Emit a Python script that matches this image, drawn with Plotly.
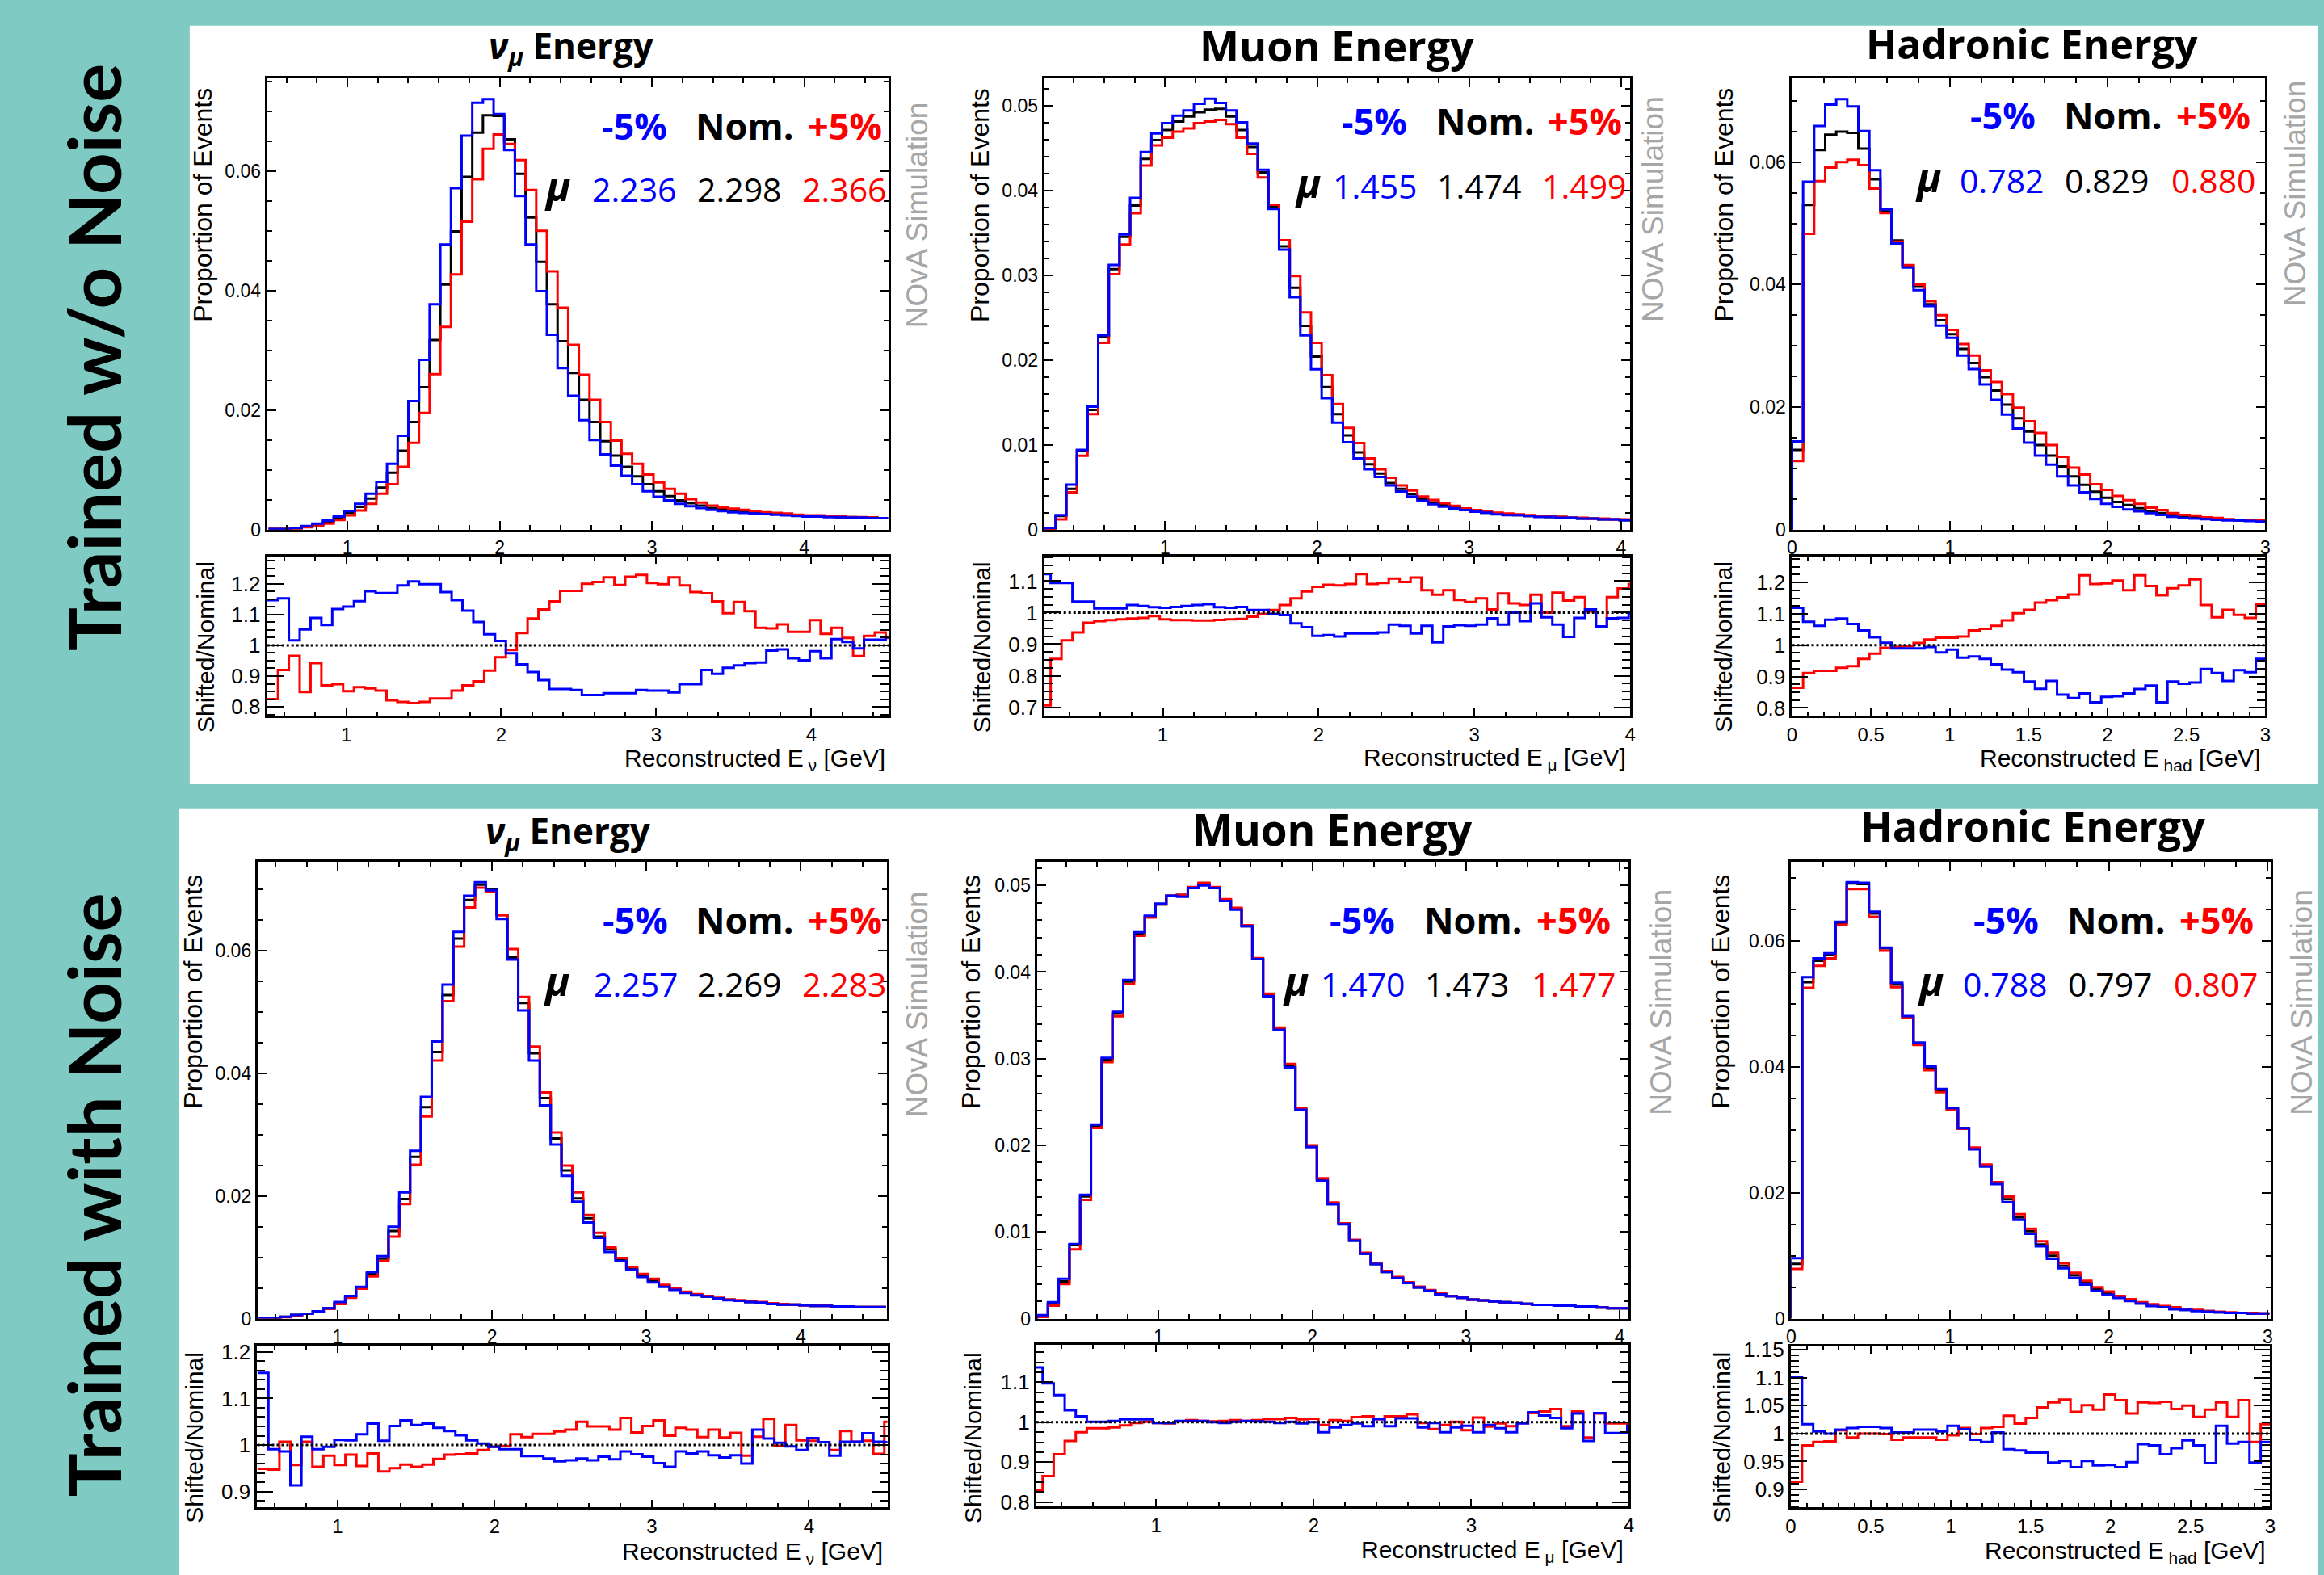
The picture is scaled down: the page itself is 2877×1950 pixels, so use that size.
import plotly.graph_objects as go

W, H = 2877, 1950
TEAL = '#7FCBC3'
BLUE = '#0000FF'
RED = '#FF0000'
BLACK = '#000000'
GRAY = '#A6A6A6'
ROOT_FONT = 'Liberation Sans'
SLIDE_FONT = 'Open Sans'

# ---------------- data (bin width 0.07 GeV) ----------------
BIN_WIDTH = 0.07
NU_START = 0.49
MU_START = 0.21
HAD_START = 0.0

# Top row: trained w/o noise
nu_top_nom = [0.0001, 0.0001, 0.0002, 0.0005, 0.0008, 0.0013, 0.0019, 0.0028, 0.0038, 0.0052,
              0.0070, 0.0095, 0.0132, 0.0180, 0.0238, 0.0317, 0.0410, 0.0499, 0.0590, 0.0664,
              0.0693, 0.0692, 0.0653, 0.0595, 0.0522, 0.0448, 0.0377, 0.0315, 0.0262, 0.0217,
              0.0180, 0.0148, 0.0124, 0.0105, 0.0089, 0.0076, 0.0064, 0.0056, 0.0049, 0.0044,
              0.0040, 0.0036, 0.0034, 0.0032, 0.0030, 0.0029, 0.0028, 0.0027, 0.0026, 0.0024,
              0.0023, 0.0023, 0.0022, 0.0021, 0.0021, 0.0020, 0.0020, 0.0019]
nu_top_minus = [0.0001, 0.0001, 0.0003, 0.0006, 0.0010, 0.0015, 0.0022, 0.0031, 0.0043, 0.0060,
                0.0080, 0.0110, 0.0157, 0.0215, 0.0284, 0.0377, 0.0477, 0.0571, 0.0659, 0.0714,
                0.0720, 0.0695, 0.0635, 0.0558, 0.0477, 0.0399, 0.0326, 0.0270, 0.0224, 0.0183,
                0.0150, 0.0126, 0.0107, 0.0090, 0.0076, 0.0064, 0.0055, 0.0049, 0.0043, 0.0039,
                0.0036, 0.0033, 0.0031, 0.0029, 0.0028, 0.0027, 0.0026, 0.0025, 0.0024, 0.0023,
                0.0022, 0.0022, 0.0021, 0.0021, 0.0020, 0.0020, 0.0019, 0.0019]
nu_top_plus = [0.0001, 0.0001, 0.0002, 0.0004, 0.0007, 0.0010, 0.0016, 0.0024, 0.0032, 0.0043,
               0.0060, 0.0076, 0.0105, 0.0145, 0.0195, 0.0260, 0.0339, 0.0427, 0.0515, 0.0586,
               0.0637, 0.0661, 0.0645, 0.0618, 0.0568, 0.0500, 0.0432, 0.0371, 0.0309, 0.0259,
               0.0217, 0.0180, 0.0149, 0.0127, 0.0110, 0.0092, 0.0079, 0.0068, 0.0060, 0.0051,
               0.0045, 0.0040, 0.0037, 0.0035, 0.0033, 0.0031, 0.0029, 0.0028, 0.0027, 0.0025,
               0.0024, 0.0024, 0.0023, 0.0022, 0.0021, 0.0021, 0.0020, 0.0019]
nu_top_ratio_minus = [1.147, 1.153, 1.016, 1.052, 1.089, 1.066, 1.118, 1.126, 1.144, 1.176,
                      1.170, 1.170, 1.195, 1.208, 1.199, 1.199, 1.173, 1.147, 1.113, 1.076,
                      1.036, 1.014, 0.974, 0.938, 0.913, 0.887, 0.858, 0.858, 0.855, 0.838,
                      0.838, 0.844, 0.844, 0.844, 0.855, 0.853, 0.853, 0.847, 0.874, 0.874,
                      0.920, 0.907, 0.927, 0.935, 0.942, 0.944, 0.983, 0.987, 0.958, 0.951,
                      0.981, 0.958, 1.020, 1.011, 0.990, 1.018, 1.018, 1.026]
nu_top_ratio_plus = [0.825, 0.920, 0.966, 0.848, 0.942, 0.870, 0.874, 0.851, 0.864, 0.860,
                     0.853, 0.821, 0.816, 0.812, 0.816, 0.827, 0.827, 0.853, 0.870, 0.883,
                     0.918, 0.961, 0.985, 1.040, 1.087, 1.117, 1.143, 1.177, 1.177, 1.200,
                     1.206, 1.221, 1.196, 1.223, 1.229, 1.203, 1.199, 1.221, 1.195, 1.173,
                     1.169, 1.143, 1.104, 1.141, 1.111, 1.057, 1.055, 1.068, 1.044, 1.044,
                     1.082, 1.037, 1.057, 1.024, 0.965, 1.031, 1.042, 1.024]

mu_top_nom = [0.0000, 0.0016, 0.0048, 0.0093, 0.0141, 0.0227, 0.0307, 0.0345, 0.0382, 0.0437,
              0.0459, 0.0471, 0.0481, 0.0487, 0.0492, 0.0495, 0.0496, 0.0487, 0.0471, 0.0451,
              0.0421, 0.0381, 0.0334, 0.0285, 0.0240, 0.0204, 0.0168, 0.0136, 0.0111, 0.0091,
              0.0077, 0.0066, 0.0055, 0.0048, 0.0042, 0.0036, 0.0032, 0.0029, 0.0026, 0.0024,
              0.0022, 0.0020, 0.0019, 0.0018, 0.0017, 0.0016, 0.0016, 0.0015, 0.0015, 0.0014,
              0.0013, 0.0013, 0.0012, 0.0012, 0.0011]
mu_top_minus = [0.0002, 0.0017, 0.0053, 0.0094, 0.0145, 0.0229, 0.0312, 0.0348, 0.0391, 0.0445,
                0.0467, 0.0479, 0.0488, 0.0494, 0.0502, 0.0508, 0.0503, 0.0494, 0.0480, 0.0455,
                0.0424, 0.0378, 0.0330, 0.0274, 0.0229, 0.0189, 0.0155, 0.0126, 0.0103, 0.0084,
                0.0071, 0.0062, 0.0052, 0.0045, 0.0039, 0.0034, 0.0030, 0.0027, 0.0025, 0.0023,
                0.0021, 0.0020, 0.0018, 0.0017, 0.0017, 0.0016, 0.0015, 0.0015, 0.0014, 0.0014,
                0.0013, 0.0013, 0.0012, 0.0012, 0.0011]
mu_top_plus = [0.0000, 0.0012, 0.0044, 0.0087, 0.0136, 0.0220, 0.0301, 0.0336, 0.0373, 0.0429,
               0.0453, 0.0462, 0.0469, 0.0473, 0.0479, 0.0481, 0.0483, 0.0478, 0.0462, 0.0443,
               0.0415, 0.0383, 0.0341, 0.0299, 0.0256, 0.0220, 0.0182, 0.0148, 0.0120, 0.0102,
               0.0084, 0.0071, 0.0061, 0.0052, 0.0046, 0.0039, 0.0035, 0.0031, 0.0028, 0.0025,
               0.0023, 0.0021, 0.0020, 0.0019, 0.0018, 0.0017, 0.0016, 0.0016, 0.0015, 0.0014,
               0.0014, 0.0013, 0.0013, 0.0012, 0.0012]
mu_top_ratio_minus = [1.122, 1.094, 1.094, 1.035, 1.035, 1.013, 1.013, 1.013, 1.024, 1.021,
                      1.017, 1.015, 1.018, 1.021, 1.024, 1.027, 1.017, 1.015, 1.018, 1.008,
                      1.008, 0.996, 0.992, 0.966, 0.954, 0.926, 0.929, 0.924, 0.934, 0.934,
                      0.934, 0.937, 0.962, 0.958, 0.934, 0.958, 0.906, 0.956, 0.960, 0.958,
                      0.962, 0.982, 0.962, 1.000, 0.973, 1.029, 0.985, 0.962, 0.923, 0.983,
                      1.010, 0.956, 0.982, 0.983, 0.998]
mu_top_ratio_plus = [0.706, 0.853, 0.912, 0.937, 0.968, 0.973, 0.976, 0.979, 0.981, 0.983,
                     0.989, 0.979, 0.976, 0.976, 0.975, 0.975, 0.977, 0.979, 0.980, 0.987,
                     0.996, 1.008, 1.024, 1.045, 1.067, 1.082, 1.088, 1.086, 1.091, 1.122,
                     1.091, 1.094, 1.108, 1.097, 1.111, 1.071, 1.057, 1.071, 1.040, 1.034,
                     1.045, 1.010, 1.061, 1.029, 1.024, 1.057, 1.000, 1.063, 1.038, 1.049,
                     1.004, 0.956, 1.049, 1.077, 1.091]

had_top_nom = [0.0130, 0.0530, 0.0620, 0.0645, 0.0650, 0.0648, 0.0622, 0.0572, 0.0521, 0.0472,
               0.0431, 0.0398, 0.0368, 0.0342, 0.0319, 0.0295, 0.0272, 0.0249, 0.0227, 0.0204,
               0.0182, 0.0160, 0.0138, 0.0121, 0.0103, 0.0087, 0.0073, 0.0062, 0.0052, 0.0045,
               0.0040, 0.0035, 0.0030, 0.0027, 0.0024, 0.0022, 0.0020, 0.0019, 0.0017, 0.0016,
               0.0015, 0.0015, 0.0014]
had_top_minus = [0.0144, 0.0568, 0.0659, 0.0694, 0.0703, 0.0691, 0.0651, 0.0587, 0.0523, 0.0467,
                 0.0428, 0.0391, 0.0365, 0.0333, 0.0313, 0.0284, 0.0262, 0.0237, 0.0212, 0.0188,
                 0.0165, 0.0142, 0.0121, 0.0106, 0.0087, 0.0072, 0.0061, 0.0050, 0.0042, 0.0037,
                 0.0033, 0.0030, 0.0027, 0.0024, 0.0021, 0.0019, 0.0018, 0.0017, 0.0016, 0.0015,
                 0.0015, 0.0014, 0.0013]
had_top_plus = [0.0112, 0.0483, 0.0569, 0.0591, 0.0600, 0.0604, 0.0595, 0.0557, 0.0517, 0.0470,
                0.0432, 0.0400, 0.0373, 0.0350, 0.0326, 0.0303, 0.0284, 0.0260, 0.0241, 0.0221,
                0.0199, 0.0177, 0.0158, 0.0138, 0.0119, 0.0101, 0.0090, 0.0074, 0.0065, 0.0055,
                0.0048, 0.0042, 0.0036, 0.0032, 0.0027, 0.0024, 0.0023, 0.0020, 0.0019, 0.0017,
                0.0016, 0.0016, 0.0015]
had_top_ratio_minus = [1.119, 1.075, 1.062, 1.081, 1.085, 1.068, 1.047, 1.025, 1.008, 0.990,
                       0.990, 0.990, 0.994, 0.977, 0.986, 0.960, 0.964, 0.956, 0.939, 0.922,
                       0.914, 0.884, 0.861, 0.886, 0.842, 0.831, 0.846, 0.818, 0.835, 0.837,
                       0.846, 0.860, 0.871, 0.818, 0.884, 0.877, 0.881, 0.924, 0.911, 0.886,
                       0.920, 0.914, 0.956]
had_top_ratio_plus = [0.864, 0.911, 0.918, 0.918, 0.928, 0.933, 0.956, 0.973, 0.992, 0.994,
                      0.997, 1.007, 1.018, 1.024, 1.024, 1.028, 1.047, 1.052, 1.062, 1.079,
                      1.102, 1.113, 1.136, 1.144, 1.153, 1.162, 1.223, 1.195, 1.197, 1.206,
                      1.175, 1.223, 1.189, 1.159, 1.182, 1.191, 1.210, 1.128, 1.089, 1.113,
                      1.097, 1.087, 1.131]

# Bottom row: trained with noise
nu_bot_nom = [0.0000, 0.0001, 0.0003, 0.0006, 0.0008, 0.0012, 0.0017, 0.0025, 0.0036, 0.0051,
              0.0074, 0.0098, 0.0143, 0.0195, 0.0264, 0.0345, 0.0435, 0.0528, 0.0620, 0.0683,
              0.0708, 0.0700, 0.0659, 0.0589, 0.0515, 0.0433, 0.0360, 0.0294, 0.0242, 0.0196,
              0.0164, 0.0134, 0.0113, 0.0096, 0.0082, 0.0071, 0.0062, 0.0054, 0.0048, 0.0043,
              0.0039, 0.0036, 0.0033, 0.0031, 0.0029, 0.0027, 0.0026, 0.0025, 0.0023, 0.0023,
              0.0022, 0.0021, 0.0021, 0.0020, 0.0020, 0.0019, 0.0019, 0.0019]
nu_bot_minus = [0.0000, 0.0001, 0.0003, 0.0006, 0.0008, 0.0012, 0.0017, 0.0027, 0.0037, 0.0052,
                0.0076, 0.0102, 0.0150, 0.0206, 0.0274, 0.0362, 0.0452, 0.0545, 0.0631, 0.0690,
                0.0712, 0.0699, 0.0652, 0.0586, 0.0503, 0.0421, 0.0348, 0.0284, 0.0233, 0.0191,
                0.0157, 0.0132, 0.0109, 0.0094, 0.0080, 0.0068, 0.0059, 0.0052, 0.0047, 0.0042,
                0.0038, 0.0036, 0.0033, 0.0030, 0.0029, 0.0027, 0.0026, 0.0024, 0.0023, 0.0023,
                0.0022, 0.0021, 0.0021, 0.0020, 0.0020, 0.0019, 0.0019, 0.0019]
nu_bot_plus = [0.0000, 0.0001, 0.0002, 0.0005, 0.0008, 0.0011, 0.0016, 0.0024, 0.0034, 0.0049,
               0.0069, 0.0094, 0.0134, 0.0187, 0.0251, 0.0330, 0.0421, 0.0518, 0.0607, 0.0671,
               0.0703, 0.0697, 0.0658, 0.0603, 0.0525, 0.0444, 0.0369, 0.0304, 0.0250, 0.0206,
               0.0169, 0.0140, 0.0116, 0.0099, 0.0084, 0.0073, 0.0065, 0.0055, 0.0049, 0.0044,
               0.0040, 0.0037, 0.0034, 0.0031, 0.0030, 0.0028, 0.0027, 0.0025, 0.0024, 0.0023,
               0.0022, 0.0021, 0.0021, 0.0020, 0.0020, 0.0019, 0.0019, 0.0019]
nu_bot_ratio_minus = [1.155, 0.991, 0.986, 0.913, 1.018, 0.991, 0.996, 1.011, 1.010, 1.023,
                      1.046, 1.009, 1.041, 1.053, 1.043, 1.046, 1.037, 1.030, 1.021, 1.010,
                      1.003, 0.996, 0.991, 0.991, 0.976, 0.976, 0.971, 0.965, 0.967, 0.971,
                      0.967, 0.975, 0.969, 0.986, 0.980, 0.975, 0.961, 0.953, 0.986, 0.982,
                      0.986, 0.978, 0.973, 0.978, 0.960, 1.033, 1.014, 1.005, 0.997, 0.989,
                      1.015, 1.006, 0.977, 1.007, 1.007, 1.025, 1.007, 1.006]
nu_bot_ratio_plus = [0.949, 0.947, 1.007, 0.957, 1.007, 0.953, 0.977, 0.957, 0.979, 0.955,
                     0.982, 0.943, 0.950, 0.958, 0.953, 0.958, 0.970, 0.979, 0.980, 0.982,
                     0.989, 0.996, 0.998, 1.023, 1.017, 1.024, 1.024, 1.029, 1.033, 1.050,
                     1.040, 1.040, 1.033, 1.058, 1.027, 1.041, 1.053, 1.020, 1.037, 1.033,
                     1.017, 1.033, 1.016, 1.026, 0.977, 1.018, 1.056, 0.998, 1.043, 1.010,
                     1.009, 1.006, 0.989, 1.030, 1.007, 1.009, 0.981, 1.050]

mu_bot_nom = [0.0003, 0.0017, 0.0043, 0.0085, 0.0141, 0.0222, 0.0299, 0.0352, 0.0389, 0.0444,
              0.0464, 0.0478, 0.0488, 0.0489, 0.0497, 0.0502, 0.0497, 0.0483, 0.0473, 0.0453,
              0.0415, 0.0373, 0.0334, 0.0292, 0.0242, 0.0199, 0.0161, 0.0133, 0.0110, 0.0090,
              0.0075, 0.0063, 0.0054, 0.0047, 0.0041, 0.0036, 0.0032, 0.0028, 0.0026, 0.0024,
              0.0022, 0.0021, 0.0020, 0.0019, 0.0018, 0.0017, 0.0016, 0.0016, 0.0015, 0.0015,
              0.0014, 0.0014, 0.0013, 0.0012, 0.0012]
mu_bot_minus = [0.0004, 0.0019, 0.0046, 0.0086, 0.0143, 0.0224, 0.0301, 0.0354, 0.0391, 0.0446,
                0.0465, 0.0479, 0.0488, 0.0487, 0.0497, 0.0500, 0.0497, 0.0482, 0.0472, 0.0453,
                0.0415, 0.0372, 0.0333, 0.0290, 0.0241, 0.0198, 0.0159, 0.0132, 0.0109, 0.0090,
                0.0075, 0.0063, 0.0054, 0.0047, 0.0041, 0.0036, 0.0032, 0.0028, 0.0026, 0.0024,
                0.0022, 0.0021, 0.0020, 0.0019, 0.0018, 0.0017, 0.0016, 0.0016, 0.0015, 0.0015,
                0.0014, 0.0014, 0.0013, 0.0012, 0.0012]
mu_bot_plus = [0.0002, 0.0015, 0.0040, 0.0080, 0.0137, 0.0220, 0.0296, 0.0349, 0.0386, 0.0442,
               0.0463, 0.0478, 0.0488, 0.0489, 0.0498, 0.0503, 0.0498, 0.0484, 0.0474, 0.0454,
               0.0416, 0.0375, 0.0336, 0.0294, 0.0243, 0.0200, 0.0162, 0.0134, 0.0110, 0.0091,
               0.0076, 0.0064, 0.0055, 0.0048, 0.0042, 0.0037, 0.0033, 0.0029, 0.0026, 0.0024,
               0.0022, 0.0021, 0.0020, 0.0019, 0.0018, 0.0017, 0.0016, 0.0016, 0.0015, 0.0015,
               0.0014, 0.0014, 0.0013, 0.0012, 0.0012]
mu_bot_ratio_minus = [1.137, 1.097, 1.068, 1.030, 1.015, 1.001, 1.001, 1.003, 1.007, 1.007,
                      1.007, 0.998, 0.998, 1.003, 1.003, 1.003, 1.000, 0.998, 1.001, 1.003,
                      1.002, 1.001, 0.998, 1.001, 0.997, 1.000, 0.975, 0.987, 0.993, 0.997,
                      0.990, 1.008, 0.990, 1.010, 1.010, 0.987, 0.998, 0.975, 0.987, 0.991,
                      0.975, 0.993, 0.985, 0.975, 0.997, 1.025, 1.017, 1.011, 0.985, 1.022,
                      0.953, 1.023, 0.973, 0.973, 0.991]
mu_bot_ratio_plus = [0.830, 0.865, 0.920, 0.953, 0.975, 0.985, 0.985, 0.987, 0.992, 0.998,
                     1.001, 0.998, 0.997, 1.002, 1.005, 1.003, 1.002, 1.003, 1.005, 1.003,
                     1.005, 1.008, 1.008, 1.011, 1.007, 1.009, 0.993, 1.005, 1.003, 1.013,
                     1.015, 1.008, 1.015, 1.015, 1.020, 0.998, 0.983, 0.993, 1.001, 0.980,
                     1.012, 0.989, 0.997, 0.990, 0.998, 1.023, 1.027, 1.033, 0.990, 1.027,
                     0.962, 1.022, 0.997, 0.997, 0.980]

had_bot_nom = [0.0087, 0.0535, 0.0569, 0.0578, 0.0629, 0.0692, 0.0691, 0.0644, 0.0589, 0.0531,
               0.0480, 0.0437, 0.0398, 0.0363, 0.0333, 0.0303, 0.0270, 0.0244, 0.0217, 0.0190,
               0.0161, 0.0139, 0.0118, 0.0100, 0.0084, 0.0069, 0.0057, 0.0047, 0.0040, 0.0035,
               0.0029, 0.0025, 0.0021, 0.0019, 0.0016, 0.0014, 0.0013, 0.0012, 0.0010, 0.0009,
               0.0009, 0.0008, 0.0008]
had_bot_minus = [0.0096, 0.0543, 0.0573, 0.0581, 0.0631, 0.0694, 0.0693, 0.0647, 0.0590, 0.0534,
                 0.0481, 0.0439, 0.0401, 0.0365, 0.0335, 0.0303, 0.0269, 0.0242, 0.0214, 0.0185,
                 0.0157, 0.0135, 0.0115, 0.0095, 0.0080, 0.0065, 0.0054, 0.0044, 0.0038, 0.0033,
                 0.0028, 0.0024, 0.0020, 0.0018, 0.0015, 0.0014, 0.0012, 0.0011, 0.0010, 0.0009,
                 0.0009, 0.0008, 0.0008]
had_bot_plus = [0.0079, 0.0526, 0.0561, 0.0573, 0.0626, 0.0683, 0.0683, 0.0639, 0.0585, 0.0527,
                0.0479, 0.0435, 0.0395, 0.0360, 0.0332, 0.0302, 0.0272, 0.0245, 0.0217, 0.0194,
                0.0166, 0.0143, 0.0123, 0.0105, 0.0088, 0.0073, 0.0060, 0.0050, 0.0043, 0.0036,
                0.0031, 0.0026, 0.0023, 0.0020, 0.0018, 0.0015, 0.0014, 0.0012, 0.0011, 0.0010,
                0.0009, 0.0009, 0.0008]
had_bot_ratio_minus = [1.101, 1.017, 1.004, 1.000, 1.007, 1.010, 1.012, 1.012, 1.010, 1.002,
                       1.002, 1.007, 1.007, 1.004, 1.014, 1.008, 0.989, 0.985, 1.002, 0.972,
                       0.970, 0.966, 0.966, 0.948, 0.951, 0.940, 0.951, 0.943, 0.944, 0.940,
                       0.949, 0.981, 0.979, 0.963, 0.974, 0.988, 0.979, 0.947, 1.014, 0.982,
                       0.985, 0.948, 0.985]
had_bot_ratio_plus = [0.914, 0.979, 0.985, 0.986, 1.006, 0.993, 1.000, 1.000, 0.999, 0.989,
                      0.993, 0.993, 0.993, 0.989, 0.997, 1.010, 0.999, 1.010, 1.012, 1.032,
                      1.018, 1.028, 1.047, 1.056, 1.061, 1.039, 1.051, 1.043, 1.070, 1.060,
                      1.036, 1.056, 1.055, 1.057, 1.044, 1.050, 1.030, 1.043, 1.056, 1.030,
                      1.060, 0.985, 1.017]

# text content
panel_titles = ['<i>ν</i><sub><i>μ</i></sub> Energy', 'Muon Energy', 'Hadronic Energy',
                '<i>ν</i><sub><i>μ</i></sub> Energy', 'Muon Energy', 'Hadronic Energy']
x_titles = ['Reconstructed E<sub> ν</sub> [GeV]', 'Reconstructed E<sub> μ</sub> [GeV]',
            'Reconstructed E<sub> had</sub> [GeV]',
            'Reconstructed E<sub> ν</sub> [GeV]', 'Reconstructed E<sub> μ</sub> [GeV]',
            'Reconstructed E<sub> had</sub> [GeV]']
mean_minus = ['2.236', '1.455', '0.782', '2.257', '1.470', '0.788']
mean_nom = ['2.298', '1.474', '0.829', '2.269', '1.473', '0.797']
mean_plus = ['2.366', '1.499', '0.880', '2.283', '1.477', '0.807']
row_labels = ['Trained w/o Noise', 'Trained with Noise']

# ---------------- helpers ----------------
def edges(start, n):
    return [round(start + BIN_WIDTH * i, 4) for i in range(n + 1)]


fig = go.Figure()
layout_axes = {}
annotations = []
axis_counter = [0]


def pxx(x):
    return x / W


def pxy(y):
    return 1 - y / H


def make_axes(frame, xr, yr, xdt, xmin, ydt, ymin, xsize, ysize, xtl, ytl):
    axis_counter[0] += 1
    n = axis_counter[0]
    sfx = '' if n == 1 else str(n)
    left, right, top, bottom = frame
    common = dict(showline=True, linewidth=3, linecolor='black', mirror='ticks',
                  ticks='inside', tickwidth=2, tickcolor='black', showgrid=False,
                  zeroline=False, tick0=0)
    layout_axes['xaxis' + sfx] = dict(domain=[pxx(left), pxx(right)], range=xr, anchor='y' + sfx,
                                      dtick=xdt, ticklen=xtl[0],
                                      tickfont=dict(family=ROOT_FONT, size=xsize, color='black'),
                                      minor=dict(ticks='inside', ticklen=xtl[1], dtick=xmin,
                                                 tickwidth=2, tickcolor='black', showgrid=False),
                                      **common)
    layout_axes['yaxis' + sfx] = dict(domain=[pxy(bottom), pxy(top)], range=yr, anchor='x' + sfx,
                                      dtick=ydt, ticklen=ytl[0],
                                      tickfont=dict(family=ROOT_FONT, size=ysize, color='black'),
                                      minor=dict(ticks='inside', ticklen=ytl[1], dtick=ymin,
                                                 tickwidth=2, tickcolor='black', showgrid=False),
                                      **common)
    return 'x' + sfx, 'y' + sfx


def add_hist(xa, ya, start, vals, color, main):
    e = edges(start, len(vals))
    if main:
        xs = [e[0]] + e
        ys = [0] + list(vals) + [vals[-1]]
    else:
        xs = e
        ys = list(vals) + [vals[-1]]
    fig.add_trace(go.Scatter(x=xs, y=ys, mode='lines',
                             line=dict(color=color, width=3, shape='hv'),
                             xaxis=xa, yaxis=ya, showlegend=False, hoverinfo='skip'))


def ann(text, x, y, size, color='black', family=ROOT_FONT, angle=0, xanchor='center',
        yanchor='middle', weight='normal', style='normal'):
    annotations.append(dict(text=text, x=pxx(x), y=pxy(y), xref='paper', yref='paper',
                            showarrow=False, textangle=angle, xanchor=xanchor, yanchor=yanchor,
                            font=dict(family=family, size=size, color=color, weight=weight,
                                      style=style)))


# ---------------- panel specs (built from the arrays above) ----------------
panels = [
    dict(start=NU_START, nom=nu_top_nom, minus=nu_top_minus, plus=nu_top_plus,
         rm=nu_top_ratio_minus, rp=nu_top_ratio_plus,
         mf=(325.3, 1098.6, 87, 652.7), rf=(325.3, 1098.6, 686, 886),
         mxr=[0.473, 4.555], myr=[0, 0.0755], rxr=[0.49, 4.5], ryr=[0.771, 1.29],
         mxd=(1, 0.2), myd=(0.02, 0.005), rxd=(1, 0.2), ryd=(0.1, 0.025)),
    dict(start=MU_START, nom=mu_top_nom, minus=mu_top_minus, plus=mu_top_plus,
         rm=mu_top_ratio_minus, rp=mu_top_ratio_plus,
         mf=(1292, 2021, 87, 652.7), rf=(1292, 2021, 686, 886),
         mxr=[0.205, 4.06], myr=[0, 0.0532], rxr=[0.239, 4.0], ryr=[0.673, 1.179],
         mxd=(1, 0.2), myd=(0.01, 0.002), rxd=(1, 0.2), ryd=(0.1, 0.025)),
    dict(start=HAD_START, nom=had_top_nom, minus=had_top_minus, plus=had_top_plus,
         rm=had_top_ratio_minus, rp=had_top_ratio_plus,
         mf=(2222.3, 2811, 87, 652.7), rf=(2222.3, 2811, 686, 886),
         mxr=[0, 3.0], myr=[0, 0.0737], rxr=[0, 3.0], ryr=[0.775, 1.284],
         mxd=(1, 0.2), myd=(0.02, 0.005), rxd=(0.5, 0.1), ryd=(0.1, 0.025)),
    dict(start=NU_START, nom=nu_bot_nom, minus=nu_bot_minus, plus=nu_bot_plus,
         rm=nu_bot_ratio_minus, rp=nu_bot_ratio_plus,
         mf=(313.3, 1096.5, 1069.4, 1641.8), rf=(313, 1097, 1676, 1878.3),
         mxr=[0.482, 4.558], myr=[0, 0.0745], rxr=[0.489, 4.5], ryr=[0.866, 1.213],
         mxd=(1, 0.2), myd=(0.02, 0.005), rxd=(1, 0.2), ryd=(0.1, 0.02)),
    dict(start=MU_START, nom=mu_bot_nom, minus=mu_bot_minus, plus=mu_bot_plus,
         rm=mu_bot_ratio_minus, rp=mu_bot_ratio_plus,
         mf=(1282.8, 2018.7, 1069.4, 1641.8), rf=(1282.2, 2019.3, 1675, 1877.3),
         mxr=[0.208, 4.056], myr=[0, 0.0527], rxr=[0.24, 4.0], ryr=[0.789, 1.193],
         mxd=(1, 0.2), myd=(0.01, 0.002), rxd=(1, 0.2), ryd=(0.1, 0.025)),
    dict(start=HAD_START, nom=had_bot_nom, minus=had_bot_minus, plus=had_bot_plus,
         rm=had_bot_ratio_minus, rp=had_bot_ratio_plus,
         mf=(2221.1, 2817.5, 1069.4, 1641.8), rf=(2220.8, 2817.2, 1676.7, 1878.3),
         mxr=[0, 3.017], myr=[0, 0.0726], rxr=[0, 3.0], ryr=[0.868, 1.156],
         mxd=(1, 0.2), myd=(0.02, 0.005), rxd=(0.5, 0.1), ryd=(0.05, 0.01)),
]

for p in panels:
    xa, ya = make_axes(p['mf'], p['mxr'], p['myr'], p['mxd'][0], p['mxd'][1],
                       p['myd'][0], p['myd'][1], 23, 23, (11, 6), (11, 6))
    add_hist(xa, ya, p['start'], p['nom'], BLACK, True)
    add_hist(xa, ya, p['start'], p['plus'], RED, True)
    add_hist(xa, ya, p['start'], p['minus'], BLUE, True)
    xr_, yr_ = make_axes(p['rf'], p['rxr'], p['ryr'], p['rxd'][0], p['rxd'][1],
                         p['ryd'][0], p['ryd'][1], 24, 26, (9, 5), (20, 10))
    add_hist(xr_, yr_, p['start'], p['rp'], RED, False)
    add_hist(xr_, yr_, p['start'], p['rm'], BLUE, False)
    fig.add_trace(go.Scatter(x=p['rxr'], y=[1, 1], mode='lines',
                             line=dict(color='black', width=3, dash='dot'),
                             xaxis=xr_, yaxis=yr_, showlegend=False, hoverinfo='skip'))

# ---------------- text placement ----------------
def ctr(baseline, size):
    # centre of plotly's text box for Open Sans, given the wanted baseline
    return baseline - 0.47 * size

# panel titles: (center x, baseline y, size)
title_pos = [(704, 69, 44), (1656, 69, 52), (2521, 67, 50),
             (700, 1053, 44), (1651, 1053, 53), (2522, 1048, 52)]
for t, (x, b, s) in zip(panel_titles, title_pos):
    ann(t, x, ctr(b, s), s, family=SLIDE_FONT, weight='bold')

# legend lines: centres of "-5%", "Nom.", "+5%", baseline
legend_pos = [((782, 919, 1044), 167), ((1703, 1840, 1965), 161), ((2485, 2621, 2746), 154),
              ((783, 919, 1044), 1163), ((1688, 1825, 1950), 1163), ((2489, 2625, 2750), 1163)]
for (xs, b) in legend_pos:
    ann('-5%', xs[0], ctr(b, 45), 45, color=BLUE, family=SLIDE_FONT, weight='bold')
    ann('Nom.', xs[1], ctr(b, 45), 45, color=BLACK, family=SLIDE_FONT, weight='bold')
    ann('+5%', xs[2], ctr(b, 45), 45, color=RED, family=SLIDE_FONT, weight='bold')

# mean lines: centres of mu, minus, nominal, plus; baseline
mean_pos = [((687, 782, 913, 1044), 245), ((1620, 1704, 1833, 1964), 241),
            ((2392, 2484, 2614, 2747), 234), ((686, 784, 913, 1044), 1241),
            ((1605, 1689, 1818, 1951), 1241), ((2395, 2488, 2618, 2750), 1241)]
for i, (xs, b) in enumerate(mean_pos):
    ann('μ', xs[0], ctr(b, 50), 50, family=SLIDE_FONT, weight='bold', style='italic')
    ann(mean_minus[i], xs[1], ctr(b, 41), 41, color=BLUE, family=SLIDE_FONT)
    ann(mean_nom[i], xs[2], ctr(b, 41), 41, color=BLACK, family=SLIDE_FONT)
    ann(mean_plus[i], xs[3], ctr(b, 41), 41, color=RED, family=SLIDE_FONT)

# NOvA Simulation (rotated)
for (x, y) in [(1134, 258), (2050, 251), (2848, 231), (1134, 1247), (2060, 1245), (2857, 1245)]:
    ann('NOvA Simulation', x, y, 37, color=GRAY, angle=-90)

# y axis titles
for (x, y) in [(245, 246), (1212, 246), (2137, 246), (233, 1232), (1201, 1232), (2133, 1232)]:
    ann('Proportion of Events', x, y, 32, angle=-90)
for (x, y) in [(248, 800), (1214, 800), (2137, 800), (235, 1791), (1204, 1791), (2135, 1791)]:
    ann('Shifted/Nominal', x, y, 30, angle=-90)

# x axis titles (right aligned, top just above cap top)
for t, (x, ytop) in zip(x_titles, [(1096, 920), (2018, 919), (2808, 920),
                                   (1093, 1915), (2015, 1913), (2814, 1914)]):
    ann(t, x, ytop, 30, xanchor='right', yanchor='top')

# row labels
ann(row_labels[0], 108, 437, 90, family='Lato', angle=-90, weight='bold')
ann(row_labels[1], 108, 1486, 90, family='Lato', angle=-90, weight='bold')

shapes = [
    dict(type='rect', xref='paper', yref='paper', x0=pxx(229), x1=1, y0=pxy(972), y1=pxy(21),
         fillcolor='white', line=dict(width=0), layer='below'),
    dict(type='rect', xref='paper', yref='paper', x0=pxx(216), x1=1, y0=-0.01, y1=pxy(1002),
         fillcolor='white', line=dict(width=0), layer='below'),
]

fig.update_layout(width=W, height=H, autosize=False, margin=dict(l=0, r=0, t=0, b=0, pad=0),
                  paper_bgcolor=TEAL, plot_bgcolor='white', showlegend=False,
                  annotations=annotations, shapes=shapes, **layout_axes)

page_fix = ("var r=document.documentElement, b=document.body;"
            "[r,b].forEach(function(e){e.style.margin='0';e.style.padding='0';"
            "e.style.overflow='hidden';e.style.background='" + TEAL + "';});"
            "var gd=document.getElementById('{plot_id}');"
            "gd.style.position='fixed';gd.style.left='0px';gd.style.top='0px';"
            "window.scrollTo(0,0);")

fig.write_html('out.html', config={'displayModeBar': False, 'responsive': False},
               post_script=page_fix)
